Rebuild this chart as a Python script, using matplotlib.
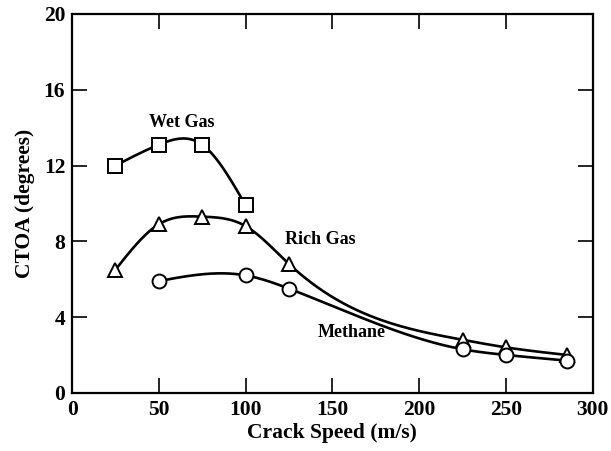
import numpy as np
import matplotlib
matplotlib.use("Agg")
import matplotlib.pyplot as plt

# ============================================
# Data
# ============================================
wet_x = [25, 50, 75, 100]
wet_y = [12.0, 13.1, 13.1, 9.9]

rich_x = [25, 50, 75, 100, 125, 225, 250, 285]
rich_y = [6.5, 8.9, 9.3, 8.8, 6.8, 2.8, 2.4, 2.0]

meth_x = [50, 100, 125, 225, 250, 285]
meth_y = [5.9, 6.2, 5.5, 2.3, 2.0, 1.7]

x_ticks = [0, 50, 100, 150, 200, 250, 300]
y_ticks = [0, 4, 8, 12, 16, 20]


# ============================================
# Natural cubic spline (for the smooth curves)
# ============================================
def natural_spline(x, y, n=300):
    x = np.asarray(x, float)
    y = np.asarray(y, float)
    k = len(x)
    h = np.diff(x)
    A = np.zeros((k, k))
    b = np.zeros(k)
    A[0, 0] = A[-1, -1] = 1.0
    for i in range(1, k - 1):
        A[i, i - 1] = h[i - 1]
        A[i, i] = 2 * (h[i - 1] + h[i])
        A[i, i + 1] = h[i]
        b[i] = 6 * ((y[i + 1] - y[i]) / h[i] - (y[i] - y[i - 1]) / h[i - 1])
    m = np.linalg.solve(A, b)
    xs = np.linspace(x[0], x[-1], n)
    idx = np.clip(np.searchsorted(x, xs) - 1, 0, k - 2)
    x0, x1 = x[idx], x[idx + 1]
    hh = x1 - x0
    t0, t1 = x1 - xs, xs - x0
    ys = (m[idx] * t0 ** 3 + m[idx + 1] * t1 ** 3) / (6 * hh) \
        + (y[idx] / hh - m[idx] * hh / 6) * t0 \
        + (y[idx + 1] / hh - m[idx + 1] * hh / 6) * t1
    return xs, ys


plt.rcParams["font.family"] = ["Liberation Serif", "DejaVu Serif"]
plt.rcParams["font.weight"] = "bold"

fig = plt.figure(figsize=(6.11, 4.51), dpi=100)
ax = fig.add_axes([0.118, 0.129, 0.852, 0.840])

series = [
    (wet_x, wet_y, "s", 10),
    (rich_x, rich_y, "^", 10),
    (meth_x, meth_y, "o", 10),
]
for xs, ys, mk, ms in series:
    sx, sy = natural_spline(xs, ys)
    ax.plot(sx, sy, color="black", lw=1.9, zorder=2)
    ax.plot(xs, ys, linestyle="none", marker=mk, markersize=ms,
            markerfacecolor="white", markeredgecolor="black",
            markeredgewidth=1.4, zorder=3)

ax.text(63, 14.25, "Wet Gas", ha="center", va="center", fontsize=13, fontweight="bold")
ax.text(143, 8.07, "Rich Gas", ha="center", va="center", fontsize=13, fontweight="bold")
ax.text(161, 3.17, "Methane", ha="center", va="center", fontsize=13, fontweight="bold")

ax.set_xlim(0, 300)
ax.set_ylim(0, 20)
ax.set_xticks(x_ticks)
ax.set_yticks(y_ticks)
ax.tick_params(direction="in", length=11, width=1.2, labelsize=15.5,
               top=True, right=True, pad=5)
for lab in ax.get_xticklabels() + ax.get_yticklabels():
    lab.set_fontweight("bold")
for sp in ax.spines.values():
    sp.set_linewidth(1.6)

ax.set_xlabel("Crack Speed (m/s)", fontsize=15.5, fontweight="bold", labelpad=2)
ax.set_ylabel("CTOA (degrees)", fontsize=15.5, fontweight="bold", labelpad=6)

fig.savefig("out.png", dpi=100)
